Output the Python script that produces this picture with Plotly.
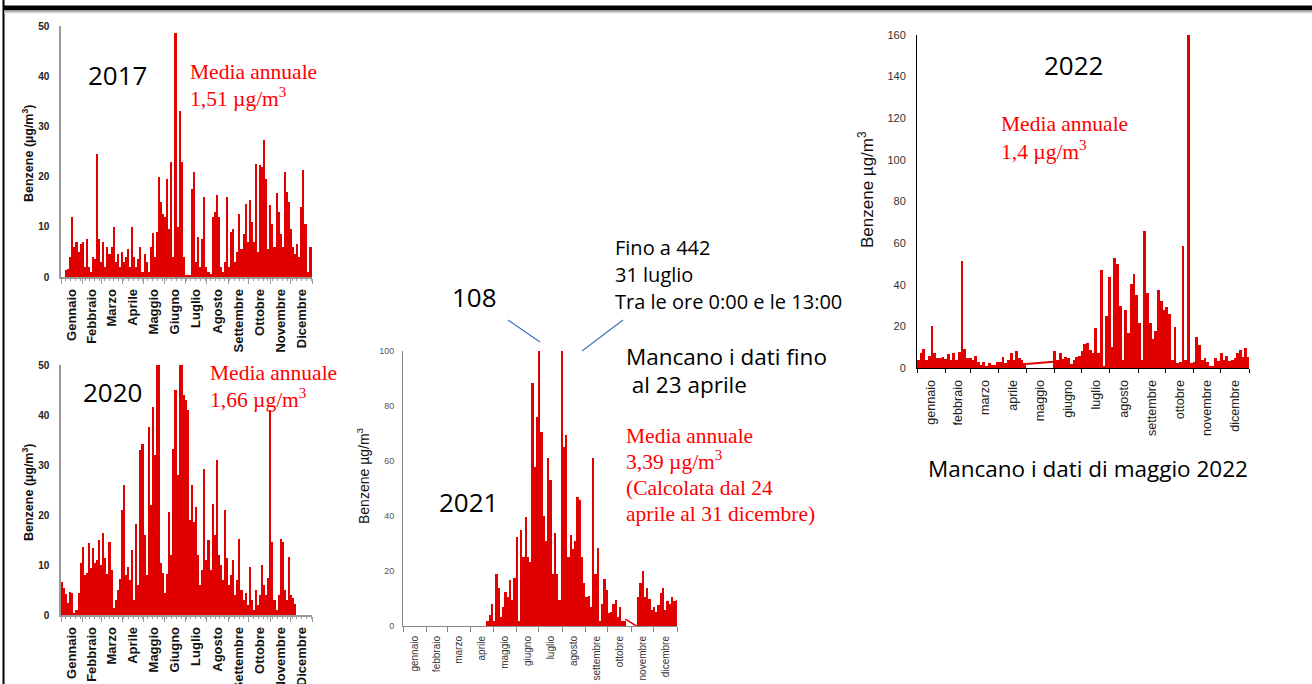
import plotly.graph_objects as go

W, H = 1312, 684

# ---------------- data ----------------
month_days = [31, 28, 31, 30, 31, 30, 31, 31, 30, 31, 30, 31]
months_cap = ["Gennaio", "Febbraio", "Marzo", "Aprile", "Maggio", "Giugno",
              "Luglio", "Agosto", "Settembre", "Ottobre", "Novembre", "Dicembre"]
months_low = ["gennaio", "febbraio", "marzo", "aprile", "maggio", "giugno",
              "luglio", "agosto", "settembre", "ottobre", "novembre", "dicembre"]

BIN_DAYS = 3  # each value = one 3-day step

benz_2017 = [0, 0, 1.4, 1.5, 4, 12, 6, 7, 5, 6.5,
             7, 2, 7.5, 2, 1, 4, 3.5, 24.5, 7.5, 3,
             7, 2, 6, 4.5, 6, 10, 3, 4.5, 2, 5,
             3, 4, 5.5, 2, 10, 4, 2, 3.5, 6, 1,
             4.5, 3, 1, 6, 8.7, 4, 9, 20, 15, 12.5,
             12, 19.5, 9.5, 23, 4, 48.7, 10, 33, 23, 4,
             0.3, 0.3, 0.3, 17.5, 21, 3, 8, 2, 7.5, 16,
             2, 1, 0.5, 12, 13, 16.3, 12, 2, 1, 3,
             16, 2, 9, 9.5, 3, 5, 12.6, 5.5, 8.5, 14.6,
             7, 15.4, 11, 7, 22.5, 5, 22.3, 22, 27.2, 19.5,
             5.5, 14.3, 10.5, 6, 16.7, 13, 8.5, 6, 21, 17,
             15, 9.5, 6, 4.5, 6.5, 4, 14, 21.3, 10.5, 1,
             6, 6]

benz_2020 = [6.7, 5.5, 4.3, 2.5, 4.7, 4.5, 0.5, 1, 4.5, 10.5,
             13.7, 8, 8.5, 14.5, 9.5, 13.5, 10.5, 11, 15, 10,
             16.5, 11.5, 8.3, 14.7, 9, 1.5, 3, 5, 7.3, 21,
             26, 8, 9.7, 7, 13, 3, 18.3, 6, 33, 34.3,
             16, 8, 37.7, 22, 41.7, 32, 55, 55, 10.5, 8.5,
             4.5, 8.3, 20.7, 12, 33.3, 45, 28, 55, 55, 44,
             43, 41, 19, 26, 18.7, 21.7, 12, 6, 9, 29.3,
             11, 15, 9, 22.3, 16, 31, 12, 10, 7, 21,
             11.5, 6, 8, 11, 4, 7, 15.3, 5, 3, 4.5,
             2, 9.7, 3, 1, 5, 2, 4, 10, 6, 4,
             7.5, 41, 14.7, 3, 1, 4, 15.3, 14.7, 5, 3,
             11.7, 4, 3.5, 2.3,
             None, None, None, None, None, None, None, None]

benz_2021 = ([None] * 37 +
             [2, 4, 8, 2, 18.8, 14, 3.4, 7, 12.5, 10.7,
              16.7, 9.5, 17.6, 32.5, 2, 35, 25, 39.8, 25, 23.4,
              88.5, 58, 76, 108, 70.7, 40, 31, 61, 53, 19,
              34, 19, 9.5, 442, 65, 69.5, 25, 33, 28, 31,
              47, 46, 25, 15.5, 10.7, 11, 7, 61, 19, 28.2,
              2, 8, 17, 13, 4.6, 5, 8, 9.5, 3.4, 7, 2, 2] +
             [None] * 5 +
             [10.7, 15.5, 20, 10.7, 13.7, 10, 6, 7, 5, 7.6,
              12, 14, 6, 9, 8, 10.7, 9, 9.5])

benz_2022 = ([4, 7, 9, 4, 6, 20, 7, 5, 4.6, 5.5,
              4.5, 6.5, 4, 7, 4, 7.8, 51.3, 9, 5, 4.6,
              4, 6, 3, 1.4, 3, 1, 2.5, 1.5, 1.5, 3,
              3, 5.5, 2.5, 4, 7, 4, 8.3, 4.6, 4, 2.5] +
             [None] * 10 +
             [8.3, 4, 7.4, 4.5, 5.5, 5, 2, 4, 5.5, 6,
              8, 11.5, 12, 8.6, 7, 19, 7, 47, 1, 25,
              43.5, 10, 53, 50, 30, 4, 28, 16.6, 40.6, 45,
              35, 21.4, 4, 66, 36, 21.4, 14, 18, 37.4, 32,
              27.8, 29.4, 26, 4, 19.8, 2.2, 3, 58.5, 4, 165,
              2.2, 3, 15, 11, 4, 5, 3, 0.6, 0.6, 4.6,
              3.5, 7.4, 4, 6, 3.5, 4, 5, 7, 8.6, 5.5, 9.4, 5.5])

# straight segments drawn across the missing-data periods (day, value)
gap_2021_day = [296, 311]
gap_2021_val = [2.5, 0]
gap_2022_day = [120, 150]
gap_2022_val = [1.9, 3.0]

# ---------------- helpers ----------------
month_start = [sum(month_days[:i]) for i in range(13)]
month_mid = [(month_start[i] + month_start[i + 1]) / 2 for i in range(12)]
week_ticks = list(range(0, 366, 7))


def px(x):
    return x / W


def py(y):
    return 1 - y / H


def days_of(vals):
    return [BIN_DAYS * i + BIN_DAYS / 2 for i in range(len(vals))]


RED = "#E00000"

fig = go.Figure()
for vals, xa, ya in [(benz_2017, "x", "y"), (benz_2020, "x2", "y2"),
                     (benz_2021, "x3", "y3"), (benz_2022, "x4", "y4")]:
    fig.add_trace(go.Bar(x=days_of(vals), y=vals, width=BIN_DAYS,
                         marker=dict(color=RED, line=dict(width=0)),
                         xaxis=xa, yaxis=ya, showlegend=False,
                         hoverinfo="x+y"))

fig.add_trace(go.Scatter(x=gap_2021_day, y=gap_2021_val, mode="lines",
                         line=dict(color=RED, width=1.5), xaxis="x3", yaxis="y3",
                         showlegend=False))
fig.add_trace(go.Scatter(x=gap_2022_day, y=gap_2022_val, mode="lines",
                         line=dict(color=RED, width=2), xaxis="x4", yaxis="y4",
                         showlegend=False))
# empty traces to activate the weekly tick overlays
fig.add_trace(go.Scatter(x=[], y=[], xaxis="x5", yaxis="y", showlegend=False))
fig.add_trace(go.Scatter(x=[], y=[], xaxis="x6", yaxis="y2", showlegend=False))


def xaxis_cfg(dom, anchor, labels, font, linecolor, lw, ticklen_minor, standoff):
    return dict(domain=[px(dom[0]), px(dom[1])], anchor=anchor, range=[0, 365],
                automargin=False,
                tickmode="array", tickvals=month_mid, ticktext=labels,
                tickangle=-90, tickfont=font, ticks="outside",
                ticklen=standoff, tickcolor="rgba(0,0,0,0)",
                showline=True, linecolor=linecolor, linewidth=lw,
                showgrid=False, zeroline=False, fixedrange=True,
                minor=dict(tickmode="array", tickvals=month_start, ticks="outside",
                           ticklen=ticklen_minor, tickcolor=linecolor, tickwidth=1,
                           showgrid=False))


def yaxis_cfg(dom, anchor, rng, dtick, font, linecolor, lw, standoff):
    return dict(domain=[py(dom[1]), py(dom[0])], anchor=anchor, range=rng,
                automargin=False,
                tickmode="linear", tick0=0, dtick=dtick, tickfont=font,
                ticks="outside", ticklen=standoff, tickcolor="rgba(0,0,0,0)",
                showline=True, linecolor=linecolor, linewidth=lw,
                showgrid=False, zeroline=False, fixedrange=True)


def week_axis(over, anchor):
    return dict(overlaying=over, anchor=anchor, range=[0, 365], automargin=False,
                tickmode="array", tickvals=week_ticks, ticks="outside", ticklen=3,
                tickcolor="#999", showticklabels=False, showline=False,
                showgrid=False, zeroline=False, fixedrange=True)


bold_x = dict(family="Liberation Sans", size=13, color="#111", weight="bold")
bold_y = dict(family="Liberation Sans", size=10, color="#222", weight="bold")

layout = dict(
    width=W, height=H, autosize=False,
    margin=dict(l=0, r=0, t=0, b=0, pad=0, autoexpand=False),
    paper_bgcolor="white", plot_bgcolor="rgba(0,0,0,0)",
    bargap=0, showlegend=False,
    xaxis=xaxis_cfg((61, 312), "y", months_cap, bold_x, "#999", 1.5, 5, 5),
    yaxis=yaxis_cfg((26, 277), "x", [0, 50], 10, bold_y, "#999", 1.5, 8),
    xaxis2=xaxis_cfg((61, 312), "y2", months_cap, bold_x, "#999", 1.5, 5, 5),
    yaxis2=yaxis_cfg((365, 615), "x2", [0, 50], 10, bold_y, "#999", 1.5, 8),
    xaxis3=xaxis_cfg((403, 677), "y3", months_low,
                     dict(family="Liberation Sans", size=10, color="#333"), "#888", 1, 5, 5),
    yaxis3=yaxis_cfg((351, 626), "x3", [0, 100], 20,
                     dict(family="Liberation Sans", size=9, color="#555"), "#888", 1, 6),
    xaxis4=xaxis_cfg((917, 1249), "y4", months_low,
                     dict(family="Liberation Sans", size=12.6, color="#222"), "#000", 1, 4, 6),
    yaxis4=yaxis_cfg((35, 368), "x4", [0, 160], 20,
                     dict(family="Liberation Sans", size=11, color="#333"), "#000", 1, 8),
    xaxis5=week_axis("x", "y"),
    xaxis6=week_axis("x2", "y2"),
)
fig.update_layout(**layout)

# ---------------- texts ----------------
ann = []


def text(t, x, y, size, family, color="black", xanchor="left", angle=0, weight="normal"):
    ann.append(dict(text=t, x=px(x), y=py(y), xref="paper", yref="paper",
                    xanchor=xanchor, yanchor="middle", showarrow=False,
                    textangle=angle,
                    font=dict(size=size, family=family, color=color, weight=weight)))


CAL = "Open Sans"
SER = "Liberation Serif"
RTXT = "#FF0000"

text("2017", 117, 75, 26, CAL, xanchor="center")
text("2020", 112, 392, 26, CAL, xanchor="center")
text("2021", 468, 502, 26, CAL, xanchor="center")
text("2022", 1073, 65, 26, CAL, xanchor="center")
text("108", 474, 297, 26, CAL, xanchor="center")

text("Media annuale", 188, 72, 21.5, SER, RTXT)
text("1,51 µg/m<sup>3</sup>", 188, 97, 21.5, SER, RTXT)
text("Media annuale", 208, 373, 21.5, SER, RTXT)
text("1,66 µg/m<sup>3</sup>", 208, 398, 21.5, SER, RTXT)
text("Media annuale", 624, 436, 21.5, SER, RTXT)
text("3,39 µg/m<sup>3</sup>", 624, 461, 21.5, SER, RTXT)
text("(Calcolata dal 24", 624, 488, 21.5, SER, RTXT)
text("aprile al 31 dicembre)", 624, 514, 21.5, SER, RTXT)
text("Media annuale", 999, 124, 21.5, SER, RTXT)
text("1,4 µg/m<sup>3</sup>", 999, 150, 21.5, SER, RTXT)

text("Fino a 442", 613, 247, 20, CAL)
text("31 luglio", 613, 274, 20, CAL)
text("Tra le ore 0:00 e le 13:00", 613, 301, 20, CAL)
text("Mancano i dati fino", 624, 356, 22.5, CAL)
text(" al 23 aprile", 624, 384, 22.5, CAL)
text("Mancano i dati di maggio 2022", 1088, 468, 22.5, CAL, xanchor="center")

text("Benzene (µg/m<sup>3</sup>)", 28, 153, 12.5, "Liberation Sans", "#111", "center", -90, "bold")
text("Benzene (µg/m<sup>3</sup>)", 28, 492, 12.5, "Liberation Sans", "#111", "center", -90, "bold")
text("Benzene µg/m<sup>3</sup>", 363, 476, 14, "Liberation Sans", "#111", "center", -90)
text("Benzene µg/m<sup>3</sup>", 866, 190, 17, "Liberation Sans", "#111", "center", -90)

fig.update_layout(annotations=ann)

# ---------------- frame decorations ----------------
shapes = [
    dict(type="rect", xref="paper", yref="paper", x0=px(4), x1=1, y0=py(10), y1=py(5.5),
         fillcolor="black", line=dict(width=0)),
    dict(type="rect", xref="paper", yref="paper", x0=px(2.5), x1=px(4.5), y0=0, y1=1,
         fillcolor="black", line=dict(width=0)),
    dict(type="line", xref="paper", yref="paper", x0=px(508), y0=py(320), x1=px(540), y1=py(342),
         line=dict(color="#4472C4", width=1.2)),
    dict(type="line", xref="paper", yref="paper", x0=px(582), y0=py(351), x1=px(623), y1=py(320),
         line=dict(color="#4472C4", width=1.2)),
]
for i, g in enumerate([150, 185, 215, 240]):
    shapes.append(dict(type="rect", xref="paper", yref="paper", x0=px(4.5), x1=1,
                       y0=py(11 + i), y1=py(10 + i),
                       fillcolor=f"rgb({g},{g},{g})", line=dict(width=0)))
fig.update_layout(shapes=shapes)

fig.write_html("out.html",
               config={"displayModeBar": False},
               post_script="document.body.style.margin='0';"
                           "document.body.style.overflow='hidden';")
